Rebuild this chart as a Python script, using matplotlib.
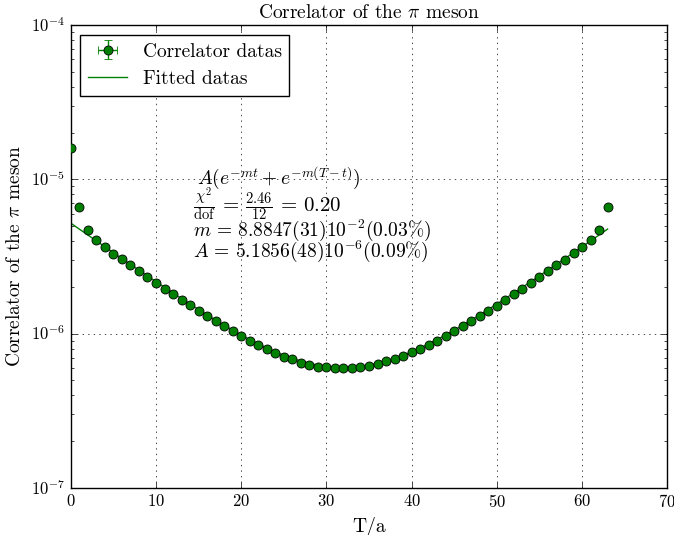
import numpy as np
import matplotlib
matplotlib.use('Agg')
import matplotlib.pyplot as plt

plt.style.use('classic')
plt.rcParams['font.family'] = 'serif'
plt.rcParams['font.serif'] = ['cmr10']
plt.rcParams['mathtext.fontset'] = 'cm'
plt.rcParams['axes.formatter.use_mathtext'] = True
plt.rcParams['axes.unicode_minus'] = False

# correlator values (T = 64)
t = np.arange(64)
corr = [1.59e-5, 6.60e-6, 4.73e-6, 4.06e-6, 3.63e-6, 3.29e-6, 3.03e-6, 2.77e-6,
        2.53e-6, 2.33e-6, 2.13e-6, 1.95e-6, 1.80e-6, 1.655e-6, 1.54e-6, 1.41e-6,
        1.30e-6, 1.20e-6, 1.115e-6, 1.035e-6, 9.70e-7, 9.00e-7, 8.45e-7, 7.90e-7,
        7.45e-7, 7.10e-7, 6.80e-7, 6.50e-7, 6.30e-7, 6.10e-7, 6.10e-7, 6.00e-7,
        5.95e-7, 6.00e-7, 6.08e-7, 6.20e-7, 6.36e-7, 6.61e-7, 6.85e-7, 7.16e-7,
        7.56e-7, 7.96e-7, 8.49e-7, 9.01e-7, 9.66e-7, 1.045e-6, 1.127e-6, 1.214e-6,
        1.309e-6, 1.41e-6, 1.52e-6, 1.66e-6, 1.80e-6, 1.96e-6, 2.13e-6, 2.32e-6,
        2.54e-6, 2.78e-6, 3.02e-6, 3.32e-6, 3.63e-6, 4.06e-6, 4.73e-6, 6.65e-6]
corr = np.array(corr)
corr_err = corr * 0.002

# fit parameters shown in the plot
T = 64
m_fit = 8.8847e-2
A_fit = 5.1856e-6
fit = A_fit * (np.exp(-m_fit * t) + np.exp(-m_fit * (T - t)))

fig = plt.figure(figsize=(6.74, 5.35), dpi=100, facecolor='white')
ax = fig.add_subplot(111)
fig.subplots_adjust(left=0.105, right=0.99, top=0.953, bottom=0.088)

eb = ax.errorbar(t, corr, yerr=corr_err, xerr=np.zeros(len(t)), fmt='o', color='g',
                 mfc='g', mec='k', mew=0.6, ms=6.5, capsize=3, label='Correlator datas',
                 zorder=3)
ln, = ax.plot(t, fit, '-', color='g', label='Fitted datas', zorder=2)

ax.set_yscale('log')
ax.set_xlim(0, 70)
ax.set_ylim(1e-7, 1e-4)
ax.grid(True, which='major', color='k', linestyle=':')

ax.set_title(r'Correlator of the $\pi$ meson', fontsize=14)
ax.set_xlabel('T/a', fontsize=14)
ax.set_ylabel(r'Correlator of the $\pi$ meson', fontsize=14)

ax.text(14.8, 1.02e-5, r'$A(e^{-mt}+e^{-m(T-t)})$', fontsize=14, va='center')
ax.text(14.3, 6.9e-6, r'$\frac{\chi^2}{\rm dof}\,=\,\frac{2.46}{12}\,=\,0.20$', fontsize=15, va='center')
ax.text(14.3, 4.7e-6, r'$m\,=\,8.8847(31)10^{-2}(0.03\%)$', fontsize=14, va='center')
ax.text(14.3, 3.4e-6, r'$A\,=\,5.1856(48)10^{-6}(0.09\%)$', fontsize=14, va='center')

ax.legend([eb, ln], ['Correlator datas', 'Fitted datas'], loc='upper left',
          numpoints=1, fontsize=14)

fig.savefig('out.png', dpi=100, facecolor='white')
